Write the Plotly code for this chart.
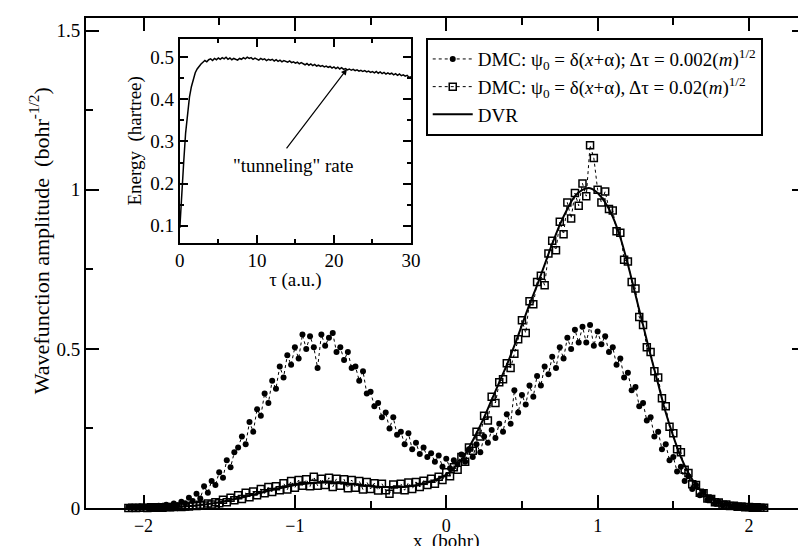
import plotly.graph_objects as go

FONT = "Times New Roman, Liberation Serif, serif"

# ---- main panel data (x grid step 0.025 from -2.1 to 2.1) ----
DMC_FINE = [
    0.002, 0.004, 0.001, 0.005, 0.002, 0.003, 0.006, 0.004,
    0.007, 0.004, 0.010, 0.006, 0.014, 0.009, 0.020, 0.015,
    0.032, 0.022, 0.045, 0.030, 0.068, 0.048, 0.085, 0.072,
    0.112, 0.095, 0.150, 0.128, 0.175, 0.190, 0.225, 0.200,
    0.270, 0.240, 0.310, 0.290, 0.360, 0.330, 0.400, 0.375,
    0.445, 0.410, 0.480, 0.450, 0.505, 0.470, 0.545, 0.500,
    0.540, 0.505, 0.440, 0.545, 0.510, 0.535, 0.550, 0.490,
    0.505, 0.465, 0.490, 0.440, 0.445, 0.400, 0.430, 0.360,
    0.365, 0.320, 0.330, 0.285, 0.300, 0.250, 0.285, 0.230,
    0.240, 0.200, 0.235, 0.185, 0.205, 0.170, 0.190, 0.160,
    0.172, 0.145, 0.165, 0.130, 0.155, 0.125, 0.150, 0.138,
    0.168, 0.145, 0.185, 0.160, 0.200, 0.175, 0.225, 0.205,
    0.245, 0.220, 0.265, 0.240, 0.295, 0.265, 0.370, 0.300,
    0.355, 0.325, 0.385, 0.350, 0.415, 0.385, 0.445, 0.420,
    0.475, 0.440, 0.505, 0.470, 0.535, 0.500, 0.560, 0.520,
    0.570, 0.520, 0.575, 0.510, 0.555, 0.515, 0.540, 0.490,
    0.505, 0.450, 0.470, 0.410, 0.425, 0.370, 0.380, 0.320,
    0.330, 0.275, 0.285, 0.225, 0.240, 0.185, 0.200, 0.150,
    0.160, 0.115, 0.130, 0.085, 0.100, 0.060, 0.072, 0.040,
    0.050, 0.025, 0.032, 0.014, 0.020, 0.009, 0.013, 0.006,
    0.008, 0.004, 0.006, 0.002, 0.004, 0.002, 0.003, 0.001,
    0.002,
]

DMC_COARSE = [
    0.000, 0.001, 0.000, 0.001, 0.001, 0.000, 0.002, 0.001,
    0.002, 0.001, 0.003, 0.002, 0.003, 0.004, 0.003, 0.005,
    0.005, 0.008, 0.006, 0.010, 0.008, 0.014, 0.011, 0.018,
    0.015, 0.026, 0.018, 0.032, 0.024, 0.040, 0.028, 0.048,
    0.034, 0.052, 0.040, 0.060, 0.046, 0.066, 0.050, 0.068,
    0.056, 0.078, 0.058, 0.085, 0.064, 0.088, 0.070, 0.090,
    0.068, 0.098, 0.070, 0.092, 0.072, 0.095, 0.066, 0.092,
    0.070, 0.090, 0.062, 0.088, 0.064, 0.085, 0.058, 0.082,
    0.060, 0.078, 0.055, 0.076, 0.056, 0.045, 0.074, 0.058,
    0.076, 0.056, 0.080, 0.060, 0.082, 0.066, 0.086, 0.072,
    0.092, 0.076, 0.098, 0.088, 0.112, 0.100, 0.128, 0.120,
    0.160, 0.145, 0.190, 0.180, 0.240, 0.225, 0.290, 0.275,
    0.350, 0.330, 0.395, 0.405, 0.455, 0.440, 0.485, 0.530,
    0.590, 0.550, 0.650, 0.640, 0.710, 0.730, 0.700, 0.800,
    0.840, 0.810, 0.900, 0.860, 0.960, 0.910, 0.990, 0.950,
    1.020, 0.980, 1.140, 1.100, 1.000, 0.960, 0.995, 0.940,
    0.935, 0.870, 0.865, 0.780, 0.775, 0.710, 0.690, 0.600,
    0.575, 0.505, 0.490, 0.430, 0.410, 0.345, 0.320, 0.255,
    0.235, 0.185, 0.175, 0.120, 0.110, 0.075, 0.072, 0.048,
    0.046, 0.030, 0.028, 0.018, 0.017, 0.010, 0.011, 0.006,
    0.007, 0.004, 0.005, 0.002, 0.003, 0.001, 0.002, 0.001,
    0.001,
]

# DVR curve, x grid step 0.05 from -2.1 to 2.1
DVR = [
    0.000, 0.000, 0.000, 0.001, 0.001, 0.002, 0.003, 0.004,
    0.006, 0.008, 0.011, 0.014, 0.018, 0.023, 0.028, 0.033,
    0.039, 0.045, 0.051, 0.057, 0.062, 0.067, 0.072, 0.075,
    0.078, 0.079, 0.080, 0.079, 0.078, 0.076, 0.074, 0.071,
    0.069, 0.067, 0.066, 0.066, 0.066, 0.068, 0.071, 0.076,
    0.083, 0.093, 0.105, 0.125, 0.150, 0.190, 0.235, 0.285,
    0.340, 0.395, 0.450, 0.510, 0.575, 0.640, 0.700, 0.765,
    0.830, 0.890, 0.940, 0.980, 1.000, 1.005, 0.990, 0.960,
    0.915, 0.850, 0.765, 0.670, 0.575, 0.480, 0.390, 0.300,
    0.225, 0.160, 0.110, 0.072, 0.046, 0.029, 0.018, 0.011,
    0.007, 0.004, 0.003, 0.002, 0.001,
]

X_DMC = [round(-2.1 + 0.025 * i, 4) for i in range(len(DMC_FINE))]
X_DVR = [round(-2.1 + 0.05 * i, 4) for i in range(len(DVR))]

# ---- inset data: energy vs tau (step 0.25) ----
ENERGY = [
    0.095, 0.160, 0.250, 0.320, 0.370, 0.405, 0.430, 0.450,
    0.463, 0.472, 0.479, 0.484, 0.488, 0.492, 0.489, 0.494,
    0.496, 0.492, 0.497, 0.494, 0.498, 0.495, 0.499, 0.496,
    0.500, 0.495, 0.498, 0.494, 0.497, 0.495, 0.493, 0.497,
    0.495, 0.499, 0.496, 0.500, 0.497, 0.499, 0.495, 0.498,
    0.496, 0.493, 0.497, 0.494, 0.496, 0.492, 0.495, 0.493,
    0.495, 0.491, 0.494, 0.490, 0.493, 0.489, 0.492, 0.490,
    0.488, 0.491, 0.487, 0.489, 0.486, 0.488, 0.484, 0.487,
    0.485, 0.482, 0.485, 0.481, 0.484, 0.480, 0.483, 0.479,
    0.481, 0.478, 0.480, 0.477, 0.479, 0.476, 0.478, 0.474,
    0.477, 0.473, 0.476, 0.472, 0.475, 0.471, 0.473, 0.470,
    0.472, 0.469, 0.471, 0.468, 0.470, 0.467, 0.469, 0.466,
    0.468, 0.465, 0.467, 0.464, 0.466, 0.463, 0.466, 0.462,
    0.465, 0.461, 0.464, 0.460, 0.463, 0.460, 0.462, 0.458,
    0.461, 0.457, 0.460, 0.456, 0.458, 0.455, 0.457, 0.452,
    0.454,
]
TAU = [0.25 * i for i in range(len(ENERGY))]

NAME1 = "DMC: ψ<sub>0</sub> = δ(<i>x</i>+α); Δτ = 0.002(<i>m</i>)<sup>1/2</sup>"
NAME2 = "DMC: ψ<sub>0</sub> = δ(<i>x</i>+α), Δτ = 0.02(<i>m</i>)<sup>1/2</sup>"
NAME3 = "DVR"

fig = go.Figure()
fig.add_trace(go.Scatter(
    x=X_DMC, y=DMC_FINE, name=NAME1, mode="lines+markers",
    line=dict(color="black", width=1, dash="dot"),
    marker=dict(symbol="circle", size=6, color="black"),
    cliponaxis=False))
fig.add_trace(go.Scatter(
    x=X_DMC, y=DMC_COARSE, name=NAME2, mode="lines+markers",
    line=dict(color="black", width=1, dash="dot"),
    marker=dict(symbol="square-open", size=7, color="black", line=dict(width=1.5)),
    cliponaxis=False))
fig.add_trace(go.Scatter(
    x=X_DVR, y=DVR, name=NAME3, mode="lines",
    line=dict(color="black", width=2, shape="spline"), cliponaxis=False))
fig.add_trace(go.Scatter(
    x=TAU, y=ENERGY, mode="lines", showlegend=False,
    line=dict(color="black", width=1.5), xaxis="x2", yaxis="y2"))

axis_common = dict(showline=True, linecolor="black", linewidth=2, mirror="ticks",
                   ticks="inside", tickcolor="black", tickwidth=1.5,
                   showgrid=False, zeroline=False)
tick19 = dict(family=FONT, size=19, color="black")

fig.update_layout(
    width=806, height=546,
    margin=dict(l=78, r=0, t=10, b=46),
    paper_bgcolor="white", plot_bgcolor="white",
    font=dict(family=FONT, size=19, color="black"),
    xaxis=dict(range=[-2.38, 2.37], dtick=1, tick0=0, ticklen=13,
               tickfont=dict(family=FONT, size=18, color="black"),
               minor=dict(dtick=0.5, tick0=0, ticklen=7, ticks="inside", tickcolor="black"),
               **axis_common),
    yaxis=dict(range=[0, 1.54], dtick=0.5, tick0=0, ticklen=13, tickfont=tick19,
               minor=dict(dtick=0.25, tick0=0, ticklen=7, ticks="inside", tickcolor="black"),
               **axis_common),
    xaxis2=dict(domain=[0.1305, 0.452], anchor="y2", range=[0, 30], dtick=10, tick0=0,
                ticklen=8, tickfont=tick19,
                minor=dict(dtick=5, tick0=0, ticklen=4, ticks="inside", tickcolor="black"),
                title=dict(text="τ (a.u.)", standoff=2, font=dict(family=FONT, size=19)),
                **axis_common),
    yaxis2=dict(domain=[0.5416, 0.957], anchor="x2", range=[0.06, 0.543], dtick=0.1, tick0=0.1,
                ticklen=8, tickfont=tick19,
                minor=dict(dtick=0.05, tick0=0.05, ticklen=4, ticks="inside", tickcolor="black"),
                title=dict(text="Energy  (hartree)", standoff=4, font=dict(family=FONT, size=19)),
                **axis_common),
    legend=dict(x=0.4725, y=0.959, xanchor="left", yanchor="top",
                bgcolor="white", bordercolor="black", borderwidth=2,
                font=dict(family=FONT, size=19, color="black"),
                itemwidth=40, tracegroupgap=0),
    annotations=[
        dict(x=0.5, y=-0.067, xref="paper", yref="paper", yanchor="middle",
             text="x  (bohr)", showarrow=False,
             font=dict(family=FONT, size=19, color="black")),
        dict(x=-0.065, y=0.545, xref="paper", yref="paper", xanchor="center", yanchor="middle",
             text="Wavefunction amplitude  (bohr<sup>-1/2</sup>)", textangle=-90, showarrow=False,
             font=dict(family=FONT, size=22, color="black")),
        dict(x=21.7, y=0.472, xref="x2", yref="y2", ax=13.7, ay=0.28,
             axref="x2", ayref="y2", text="", showarrow=True,
             arrowhead=2, arrowsize=1, arrowwidth=1.2, arrowcolor="black"),
        dict(x=14.7, y=0.242, xref="x2", yref="y2", text="\"tunneling\" rate",
             showarrow=False, font=dict(family=FONT, size=19, color="black")),
    ],
)

fig.write_html("out.html")
